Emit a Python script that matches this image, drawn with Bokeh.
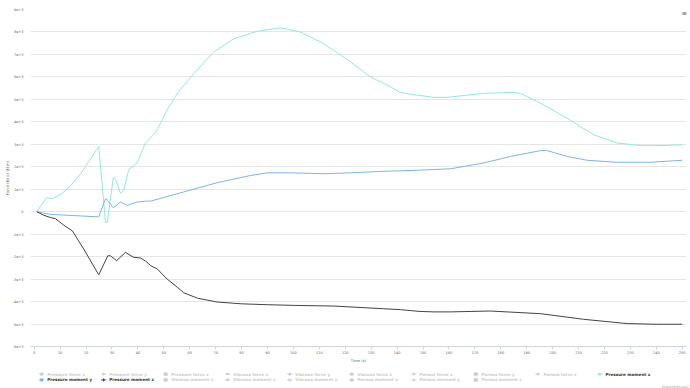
import math
from bokeh.plotting import figure
from bokeh.layouts import column
from bokeh.models import Range1d, FixedTicker, Label, ColumnDataSource
from bokeh.core.properties import value
from bokeh.embed import file_html
from bokeh.resources import INLINE

# ---------------- data ----------------
pmx_t = [1, 4.7, 6.9, 9.5, 12.7, 18, 24.9, 27.5, 28.2, 30.5, 31.4, 33.3, 34.6, 36.5, 38.4,
         39.7, 42.9, 45.5, 47.5, 49.4, 51.3, 55.2, 61.6, 69.3, 77, 86, 95, 102.7, 111.7,
         122, 129.7, 137.5, 141.3, 147.8, 154.2, 159.3, 173.5, 185, 187.6, 196.6, 205.6,
         215.9, 224.9, 234, 241.7, 250]
pmx_v = [0, 620, 580, 720, 990, 1700, 2910, -480, -480, 1510, 1430, 810, 990, 1880, 2050,
         2170, 3060, 3350, 3650, 4090, 4530, 5270, 6150, 7110, 7700, 8030, 8190, 8000, 7480,
         6670, 6000, 5560, 5300, 5190, 5090, 5090, 5270, 5310, 5270, 4750, 4160,
         3420, 3060, 2940, 2940, 2980]

pmy_t = [1, 6.3, 24.9, 27.5, 28.4, 30.5, 33.3, 35.9, 39.7, 42.9, 44.9, 57.7, 70.6, 83.4,
         89.9, 98.9, 111.7, 122, 134.9, 141.3, 148.8, 160.6, 173.5, 183.8, 195.4, 197.9,
         205.6, 213.3, 224.9, 237.8, 250]
pmy_v = [0, -120, -230, 580, 500, 180, 430, 280, 430, 470, 470, 880, 1290, 1610,
         1730, 1730, 1690, 1730, 1800, 1820, 1850, 1910, 2170, 2460, 2720, 2720,
         2460, 2290, 2200, 2200, 2290]

pmz_t = [1, 3.7, 6.3, 8.2, 11.4, 14.7, 19.1, 24.9, 28.4, 29.4, 31.8, 35.2, 38.4, 41, 43,
         44.9, 47.5, 51.3, 55.2, 57.7, 63, 70.6, 80, 89.9, 100, 115.6, 134.9, 141.3, 148.8,
         154.2, 160.6, 175.9, 195.4, 212, 228.8, 240, 250]
pmz_v = [0, -160, -260, -310, -600, -850, -1660, -2810, -1960, -1960, -2180, -1810, -2030,
         -2060, -2200, -2400, -2550, -3000, -3360, -3610, -3850, -4020, -4100, -4140, -4170,
         -4200, -4320, -4360, -4440, -4460, -4460, -4420, -4540, -4790, -4980, -5010, -5010]

x_ticks = list(range(0, 251, 10))
y_ticks = [-6000, -5000, -4000, -3000, -2000, -1000, 0, 1000, 2000, 3000, 4000, 5000, 6000, 7000, 8000, 9000]
y_tick_labels = ["-6e+3", "-5e+3", "-4e+3", "-3e+3", "-2e+3", "-1e+3", "0", "1e+3", "2e+3",
                 "3e+3", "4e+3", "5e+3", "6e+3", "7e+3", "8e+3", "9e+3"]

legend_names = ["Pressure force x", "Pressure force y", "Pressure force z",
                "Viscous force x", "Viscous force y", "Viscous force z",
                "Porous force x", "Porous force y", "Porous force z",
                "Pressure moment x", "Pressure moment y", "Pressure moment z",
                "Viscous moment x", "Viscous moment y", "Viscous moment z",
                "Porous moment x", "Porous moment y", "Porous moment z"]
legend_visible = ["Pressure moment x", "Pressure moment y", "Pressure moment z"]

palette = ["#7cb5ec", "#434348", "#90ed7d", "#f7a35c", "#8085e9",
           "#f15c80", "#e4d354", "#2b908f", "#f45b5b", "#91e8e1"]
marker_types = ["circle", "diamond", "square", "triangle", "inverted_triangle"]

FONT = "DejaVu Sans"

# ---------------- main figure ----------------
W = 690
H_MAIN = 365
FL, FR, FT, FB = 30, 686, 9, 348  # frame edges in canvas px
X0 = -1.43
X1 = X0 + (FR - FL) / 2.592
Y0, Y1 = -6000, 9000

p = figure(width=W, height=H_MAIN, output_backend="svg", toolbar_location=None,
           x_range=Range1d(X0, X1), y_range=Range1d(Y0, Y1),
           min_border_left=FL, min_border_right=W - FR, min_border_top=FT,
           min_border_bottom=H_MAIN - FB)
p.frame_align = False
p.outline_line_color = None
p.background_fill_color = "white"
p.border_fill_color = "white"


def fx(px):
    return X0 + (px - FL) * (X1 - X0) / (FR - FL)


def fy(py):
    return Y1 - (py - FT) * (Y1 - Y0) / (FB - FT)


p.xgrid.grid_line_color = None
p.ygrid.grid_line_color = "#e6e6e6"
p.ygrid.grid_line_width = 1
p.ygrid.ticker = FixedTicker(ticks=y_ticks)

ya = p.yaxis[0]
ya.ticker = FixedTicker(ticks=y_ticks)
ya.major_label_overrides = {t: s for t, s in zip(y_ticks, y_tick_labels)}
ya.axis_line_color = None
ya.major_tick_line_color = None
ya.minor_tick_line_color = None
ya.major_tick_in = 0
ya.major_tick_out = 0
ya.major_label_standoff = 7
ya.major_label_text_font = FONT
ya.major_label_text_font_size = "3.5px"
ya.major_label_text_color = "#666666"
ya.axis_label = "Force (N) or (N m)"
ya.axis_label_text_font = FONT
ya.axis_label_text_font_size = "3.8px"
ya.axis_label_text_font_style = "normal"
ya.axis_label_text_color = "#666666"
ya.axis_label_standoff = 0

xa = p.xaxis[0]
xa.ticker = FixedTicker(ticks=x_ticks)
xa.axis_line_color = "#ccd6eb"
xa.axis_line_width = 1
xa.major_tick_line_color = "#ccd6eb"
xa.minor_tick_line_color = None
xa.major_tick_in = 0
xa.major_tick_out = 3
xa.major_label_standoff = 1
xa.major_label_text_font = FONT
xa.major_label_text_font_size = "3.5px"
xa.major_label_text_color = "#666666"
xa.axis_label = "Time (s)"
xa.axis_label_text_font = FONT
xa.axis_label_text_font_size = "3.8px"
xa.axis_label_text_font_style = "normal"
xa.axis_label_text_color = "#666666"
xa.axis_label_standoff = 1

p.line(pmx_t, pmx_v, line_color=palette[9], line_width=1)
p.line(pmy_t, pmy_v, line_color=palette[0], line_width=1)
p.line(pmz_t, pmz_v, line_color=palette[1], line_width=1)

# context-menu icon
p.add_layout(Label(x=fx(684), y=fy(13.5), text="\u2261", text_align="center",
                   text_baseline="middle", text_font=FONT, text_font_size="8px",
                   text_color="#666666"))

# ---------------- legend strip (Highcharts-style legend) ----------------
H_LEG = 388 - H_MAIN
leg = figure(width=W, height=H_LEG, output_backend="svg", toolbar_location=None,
             x_range=Range1d(0, W), y_range=Range1d(H_MAIN + H_LEG, H_MAIN),
             x_axis_location=None, y_axis_location=None,
             min_border_left=0, min_border_right=0, min_border_top=0, min_border_bottom=0)
leg.frame_align = False
leg.outline_line_color = None
leg.xgrid.grid_line_color = None
leg.ygrid.grid_line_color = None
leg.background_fill_color = "white"
leg.border_fill_color = "white"

col0, col_step = 46.7, 62.03
row_y = [373.6, 379.4]
xs, ys, cols, tcols, mk, names = [], [], [], [], [], []
for i, name in enumerate(legend_names):
    r, c = divmod(i, 10)
    shown = name in legend_visible
    xs.append(col0 + c * col_step)
    ys.append(row_y[r])
    cols.append(palette[i % 10] if shown else "#cccccc")
    tcols.append("#333333" if shown else "#cccccc")
    mk.append(marker_types[i % 5])
    names.append(name)

src = ColumnDataSource(dict(
    tx=xs, ty=ys, name=names, col=cols, tcol=tcols, mk=mk,
    sx0=[x - 8.3 for x in xs], sx1=[x - 2.9 for x in xs], sxm=[x - 5.6 for x in xs]))
leg.segment(x0="sx0", y0="ty", x1="sx1", y1="ty", line_color="col", line_width=0.8, source=src)
leg.scatter(x="sxm", y="ty", marker="mk", size=3.2, fill_color="col", line_color="col",
            line_width=0.3, source=src)
leg.text(x="tx", y="ty", text="name", text_color="tcol", text_font=value(FONT),
         text_font_size="4.1px", text_font_style="bold", text_baseline="middle",
         text_align="left", source=src)

leg.text(x=[688], y=[386.7], text=["Highcharts.com"], text_color="#999999",
         text_font=value(FONT), text_font_size="3.4px", text_baseline="middle",
         text_align="right")

layout = column(p, leg, spacing=0)
open("out.html", "w").write(file_html(layout, INLINE))
